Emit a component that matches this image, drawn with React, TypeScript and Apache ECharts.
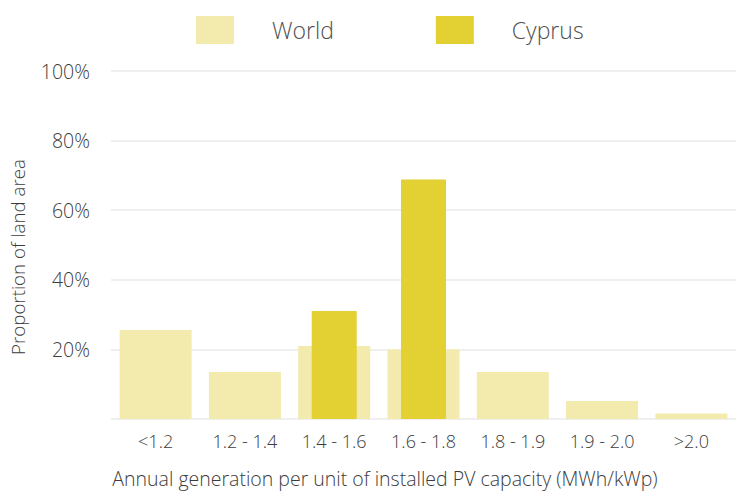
import React, { useEffect, useRef } from "react";
import * as echarts from "echarts";

const categories = ["<1.2", "1.2 - 1.4", "1.4 - 1.6", "1.6 - 1.8", "1.8 - 1.9", "1.9 - 2.0", ">2.0"];
const worldValues = [25.6, 13.5, 21, 20, 13.5, 5.2, 1.6];
const cyprusValues = [null, null, 31, 68.8, null, null, null];
const yTicks = [0, 20, 40, 60, 80, 100];

const FONT = "'Open Sans', 'Noto Sans', sans-serif";
const TEXT = "#3c3c3c";

export default function App() {
  const ref = useRef<HTMLDivElement>(null);
  useEffect(() => {
    if (!ref.current) return;
    const chart = echarts.init(ref.current, undefined, { renderer: "svg" });
    chart.setOption({
      animation: false,
      textStyle: { fontFamily: FONT, fontWeight: 300 },
      legend: {
        left: 196,
        top: 16,
        padding: 0,
        itemWidth: 38,
        itemHeight: 28,
        itemGap: 102,
        icon: "rect",
        textStyle: { fontSize: 23, color: "#505050", fontFamily: FONT, fontWeight: 300, padding: [0, 0, 0, 33] },
        data: ["World", "Cyprus"],
      },
      grid: { left: 111, right: 0, top: 71, bottom: 72, containLabel: false },
      xAxis: [
        {
          type: "category",
          data: categories,
          axisLine: { show: false },
          axisTick: { show: false },
          axisLabel: { fontSize: 18, color: TEXT, margin: 13, fontFamily: FONT, fontWeight: 300 },
        },
        { type: "category", data: categories, show: false },
      ],
      yAxis: {
        type: "value",
        min: yTicks[0],
        max: yTicks[yTicks.length - 1],
        interval: 20,
        axisLine: { show: false },
        axisTick: { show: false },
        splitLine: { lineStyle: { color: "#efefef", width: 2 } },
        axisLabel: {
          fontSize: 19.5,
          color: TEXT,
          margin: 21,
          fontFamily: FONT,
          fontWeight: 300,
          formatter: (v: number) => (v === 0 ? "" : v + "%"),
        },
      },
      graphic: [
        {
          type: "text",
          x: 17,
          y: 257,
          rotation: Math.PI / 2,
          style: {
            text: "Proportion of land area",
            fontSize: 18.7,
            fontFamily: FONT,
            fontWeight: 300,
            fill: TEXT,
            textAlign: "center",
            textVerticalAlign: "middle",
          },
        },
        {
          type: "text",
          x: 385,
          y: 478,
          style: {
            text: "Annual generation per unit of installed PV capacity (MWh/kWp)",
            fontSize: 19.5,
            fontFamily: FONT,
            fontWeight: 300,
            fill: TEXT,
            textAlign: "center",
            textVerticalAlign: "middle",
          },
        },
      ],
      series: [
        {
          name: "World",
          type: "bar",
          xAxisIndex: 0,
          data: worldValues,
          barWidth: 72,
          itemStyle: { color: "#F3EBAD" },
        },
        {
          name: "Cyprus",
          type: "bar",
          xAxisIndex: 1,
          data: cyprusValues,
          barWidth: 45,
          itemStyle: { color: "#E3D033" },
        },
      ],
    });
    return () => chart.dispose();
  }, []);
  return <div ref={ref} style={{ position: "absolute", left: 0, top: 0, width: 736, height: 491 }} />;
}
